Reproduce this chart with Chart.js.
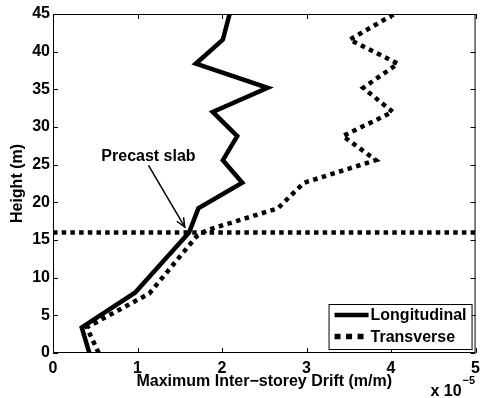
<!DOCTYPE html>
<html>
<head>
<meta charset="utf-8">
<script src="https://cdn.jsdelivr.net/npm/chart.js@4.4.1/dist/chart.umd.min.js"></script>
<style>
  html, body { margin: 0; padding: 0; background: #fff; }
  #wrap { width: 486px; height: 398px; }
</style>
</head>
<body>
<div id="wrap"><canvas id="grafico"></canvas></div>
<script>
const heights = [0, 3.4, 8.0, 16.0, 19.2, 22.6, 25.6, 28.8, 32.0, 35.2, 38.4, 41.6, 45.0]
const longitudinal = [0.43, 0.34, 0.97, 1.61, 1.72, 2.24, 2.01, 2.18, 1.89, 2.54, 1.69, 2.01, 2.09]
const transverseHeights = [0, 3.4, 7.9, 15.5, 16.3, 19.2, 22.6, 25.6, 28.8, 32.0, 35.2, 38.4, 41.6, 45.0]
const transverse = [0.54, 0.40, 1.14, 1.70, 1.82, 2.66, 2.97, 3.82, 3.43, 4.02, 3.67, 4.08, 3.51, 4.04]
const slabHeight = 16
const xTicks = [0, 1, 2, 3, 4, 5]
const yTicks = [0, 5, 10, 15, 20, 25, 30, 35, 40, 45]

const fonte = 'bold 16px "Liberation Sans", Arial, sans-serif'

function pares(xs, ys) {
    return xs.map((v, i) => ({ x: v, y: ys[i] }))
}

// moldura, marcas internas, legenda, anotação e o "x 10^-5"
const extras = {
    id: 'extras',
    afterDatasetsDraw(chart) {
        const ctx = chart.ctx
        const a = chart.chartArea
        const sx = chart.scales.x
        const sy = chart.scales.y
        ctx.save()

        // moldura e ticks
        ctx.strokeStyle = '#000'
        ctx.lineWidth = 1
        ctx.strokeRect(a.left + 0.5, a.top + 0.5, a.right - a.left - 1, a.bottom - a.top - 1)
        ctx.beginPath()
        xTicks.forEach(v => {
            const px = Math.round(sx.getPixelForValue(v)) + 0.5
            ctx.moveTo(px, a.bottom); ctx.lineTo(px, a.bottom - 5)
            ctx.moveTo(px, a.top); ctx.lineTo(px, a.top + 5)
        })
        yTicks.forEach(v => {
            const py = Math.round(sy.getPixelForValue(v)) + 0.5
            ctx.moveTo(a.left, py); ctx.lineTo(a.left + 5, py)
            ctx.moveTo(a.right, py); ctx.lineTo(a.right - 5, py)
        })
        ctx.stroke()

        // anotação
        ctx.font = fonte
        ctx.fillStyle = '#000'
        ctx.textAlign = 'center'
        ctx.textBaseline = 'middle'
        ctx.fillText('Precast slab', sx.getPixelForValue(1.13), sy.getPixelForValue(26.1))
        const x0 = sx.getPixelForValue(1.13), y0 = sy.getPixelForValue(24.9)
        const x1 = sx.getPixelForValue(1.56), y1 = sy.getPixelForValue(16.7)
        ctx.lineWidth = 1.5
        ctx.beginPath()
        ctx.moveTo(x0, y0); ctx.lineTo(x1, y1)
        const ang = Math.atan2(y1 - y0, x1 - x0)
        const L = 10
        ctx.moveTo(x1 - L * Math.cos(ang - 0.4), y1 - L * Math.sin(ang - 0.4))
        ctx.lineTo(x1, y1)
        ctx.lineTo(x1 - L * Math.cos(ang + 0.4), y1 - L * Math.sin(ang + 0.4))
        ctx.stroke()

        // legenda
        const itens = chart.data.datasets.filter(d => !d.esconder)
        const bw = 143, bh = 45
        const bx = a.right - 4 - bw, by = a.bottom - 4 - bh
        ctx.fillStyle = '#fff'
        ctx.fillRect(bx, by, bw, bh)
        ctx.lineWidth = 1
        ctx.strokeStyle = '#000'
        ctx.strokeRect(bx + 0.5, by + 0.5, bw, bh)
        ctx.textAlign = 'left'
        itens.forEach((d, i) => {
            const ly = by + 11 + i * 21.5
            ctx.beginPath()
            ctx.lineWidth = d.borderDash ? 5.5 : d.borderWidth
            ctx.setLineDash(d.borderDash ? [6, 5.5] : [])
            ctx.moveTo(bx + 6, ly); ctx.lineTo(bx + 40, ly)
            ctx.stroke()
            ctx.setLineDash([])
            ctx.fillStyle = '#000'
            ctx.fillText(d.label, bx + 42, ly + 1)
        })

        // multiplicador do eixo x
        ctx.textBaseline = 'alphabetic'
        ctx.textAlign = 'right'
        ctx.font = fonte
        ctx.fillText('x 10', a.right - 14, 396)
        ctx.textAlign = 'left'
        ctx.font = 'bold 11px "Liberation Sans", Arial, sans-serif'
        ctx.fillText('\u22125', a.right - 13, 384)
        ctx.restore()
    }
}

new Chart(document.getElementById('grafico'), {
    type: 'scatter',
    data: {
        datasets: [{
            label: 'Longitudinal',
            data: pares(longitudinal, heights),
            showLine: true,
            borderColor: '#000',
            backgroundColor: '#000',
            borderWidth: 4.5,
            pointRadius: 0,
            borderJoinStyle: 'miter'
        }, {
            label: 'Transverse',
            data: pares(transverse, transverseHeights),
            showLine: true,
            borderColor: '#000',
            backgroundColor: '#000',
            borderWidth: 4.5,
            borderDash: [4.5, 4.5],
            pointRadius: 0
        }, {
            label: 'slab',
            esconder: true,
            data: pares([xTicks[0], xTicks[xTicks.length - 1]], [slabHeight, slabHeight]),
            showLine: true,
            borderColor: '#000',
            borderWidth: 4.5,
            borderDash: [4.5, 4.2],
            pointRadius: 0
        }]
    },
    options: {
        responsive: true,
        maintainAspectRatio: false,
        animation: false,
        layout: { padding: { left: 0, right: 5, top: 14, bottom: 0 } },
        plugins: { legend: { display: false }, tooltip: { enabled: false } },
        scales: {
            x: {
                type: 'linear',
                min: 0, max: 5,
                afterFit: s => { s.height = 45 },
                afterBuildTicks: s => { s.ticks = xTicks.map(v => ({ value: v })) },
                grid: { display: false, drawTicks: false },
                border: { display: false },
                ticks: { color: '#000', padding: 6, maxRotation: 0, font: { family: '"Liberation Sans", Arial', size: 16, weight: 'bold' } },
                title: {
                    display: true,
                    text: 'Maximum Inter\u2212storey Drift (m/m)',
                    color: '#000',
                    padding: { top: 0, bottom: 7 },
                    font: { family: '"Liberation Sans", Arial', size: 16, weight: 'bold' }
                }
            },
            y: {
                min: 0, max: 45,
                afterFit: s => { s.width = 53 },
                afterBuildTicks: s => { s.ticks = yTicks.map(v => ({ value: v })) },
                grid: { display: false, drawTicks: false },
                border: { display: false },
                ticks: { color: '#000', padding: 3, font: { family: '"Liberation Sans", Arial', size: 16, weight: 'bold' } },
                title: {
                    display: true,
                    text: 'Height (m)',
                    color: '#000',
                    padding: { top: 8, bottom: 0 },
                    font: { family: '"Liberation Sans", Arial', size: 16, weight: 'bold' }
                }
            }
        }
    },
    plugins: [extras]
})
</script>
</body>
</html>
